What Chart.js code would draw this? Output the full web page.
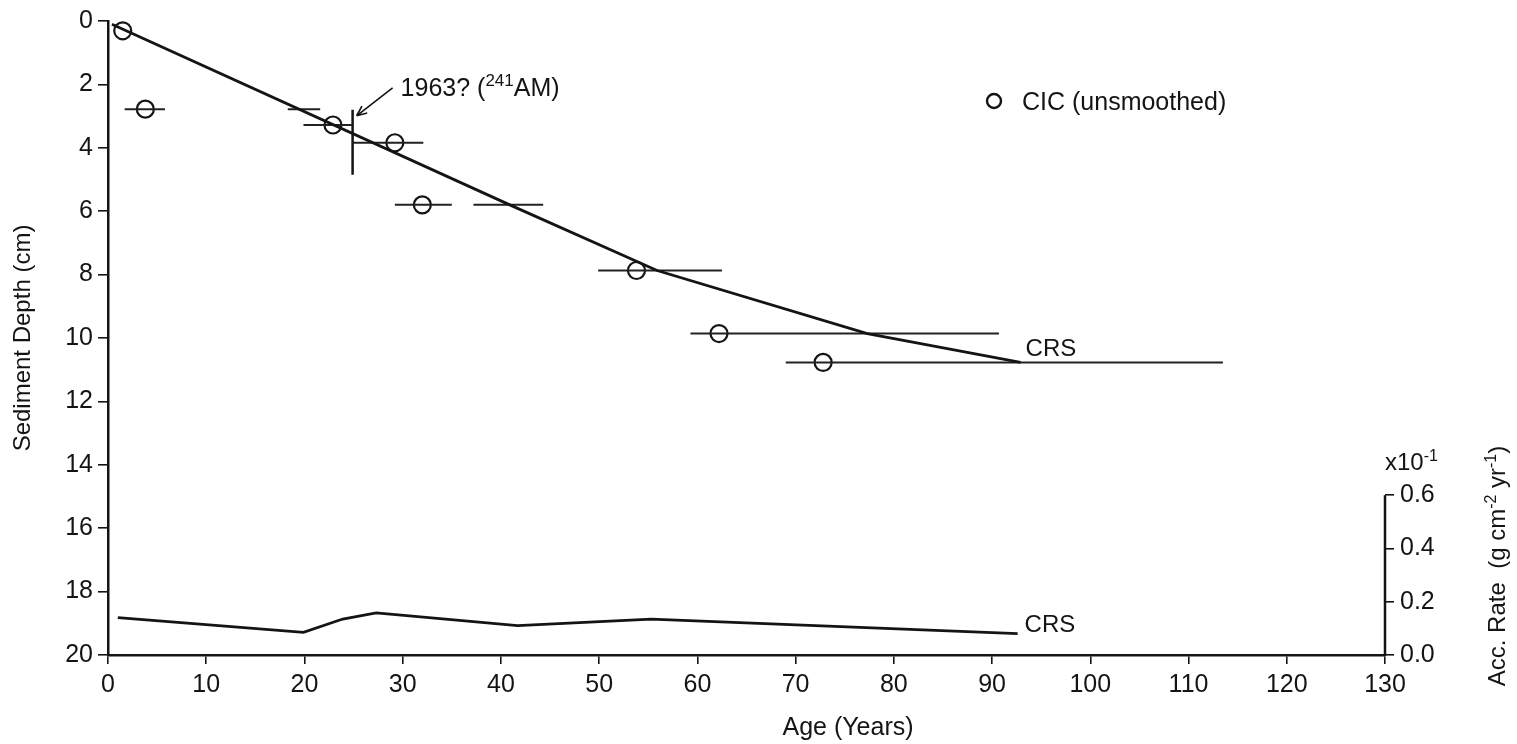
<!DOCTYPE html>
<html>
<head>
<meta charset="utf-8">
<script src="https://cdn.jsdelivr.net/npm/chart.js@4.4.0/dist/chart.umd.min.js"></script>
<style>
  body { margin: 0; background: #fff; }
  #wrap { width: 1517px; height: 744px; }
</style>
</head>
<body>
<div id="wrap"><canvas id="chart" width="1517" height="744"></canvas></div>
<script>
//
// Sediment core age model: CRS vs CIC (unsmoothed), plus CRS accumulation rate
//

// axis ticks
const ageTicks = [0, 10, 20, 30, 40, 50, 60, 70, 80, 90, 100, 110, 120, 130]
const depthTicks = [0, 2, 4, 6, 8, 10, 12, 14, 16, 18, 20]
const rateTicks = [0, 0.2, 0.4, 0.6]

// CRS depth-age model (years, cm)
const crsAge = [0.4, 40.9, 55.9, 77.3, 92.9]
const crsDepth = [0.1, 5.8, 7.87, 9.86, 10.77]

// CIC unsmoothed (years, cm)
const cicAge = [1.5, 3.8, 22.9, 29.2, 32.0, 53.8, 62.2, 72.8]
const cicDepth = [0.31, 2.78, 3.28, 3.84, 5.8, 7.87, 9.86, 10.77]

// horizontal age error bars (cm, years low, years high)
const errDepth = [2.78, 2.78, 3.28, 3.84, 5.8, 5.8, 7.87, 9.86, 10.77]
const errLow = [1.7, 18.3, 19.9, 24.9, 29.2, 37.2, 49.9, 59.3, 69.0]
const errHigh = [5.8, 21.6, 25.0, 32.1, 35.0, 44.3, 62.5, 90.7, 113.5]

// 241Am marker (1963?), vertical depth bar
const amAge = 24.9
const amDepth = [2.8, 4.85]

// CRS accumulation rate (x10^-1 g cm-2 yr-1)
const accAge = [1.0, 19.9, 23.9, 27.3, 41.7, 55.3, 92.6]
const accRate = [0.14, 0.085, 0.135, 0.158, 0.11, 0.135, 0.08]

const ink = "#141414"
const fontFamily = "'Liberation Sans', Arial, Helvetica, sans-serif"

//Build error bar segments, broken apart by gap points.
let errData = []
for (let i = 0; i < errDepth.length; i++){
    errData.push({ x: errLow[i], y: errDepth[i] })
    errData.push({ x: errHigh[i], y: errDepth[i] })
    errData.push({ x: errHigh[i], y: null })
}

const zip = (xs, ys) => xs.map((x, i) => ({ x: x, y: ys[i] }))

//Text with superscript parts, e.g. [["1963? ("], ["241", true], ["AM)"]]
function richText(ctx, parts, x, y, size, align){
    const big = size + "px " + fontFamily
    const small = Math.round(size * 0.66) + "px " + fontFamily
    let width = 0
    for (let p of parts){
        ctx.font = p[1] ? small : big
        width += ctx.measureText(p[0]).width
    }
    let cx = align === "center" ? x - width / 2 : x
    ctx.textAlign = "left"
    ctx.textBaseline = "alphabetic"
    for (let p of parts){
        ctx.font = p[1] ? small : big
        ctx.fillText(p[0], cx, p[1] ? y - size * 0.38 : y)
        cx += ctx.measureText(p[0]).width
    }
}

const annotations = {
    id: "annotations",
    afterDatasetsDraw(chart){
        const ctx = chart.ctx
        const xs = chart.scales.x
        const ys = chart.scales.y
        const rs = chart.scales.y2
        ctx.save()
        ctx.fillStyle = ink
        ctx.strokeStyle = ink

        //Right axis line only spans the rate range.
        ctx.lineWidth = 2.5
        ctx.beginPath()
        ctx.moveTo(rs.left, rs.getPixelForValue(0) + 1)
        ctx.lineTo(rs.left, rs.getPixelForValue(rateTicks[rateTicks.length - 1]))
        ctx.stroke()

        //x10^-1 multiplier above right axis
        richText(ctx, [["x10"], ["-1", true]], rs.left, rs.getPixelForValue(0.6) - 25, 24, "left")

        //Right axis title, rotated
        ctx.save()
        ctx.translate(1505, 566)
        ctx.rotate(-Math.PI / 2)
        richText(ctx, [["Acc. Rate  (g cm"], ["-2", true], [" yr"], ["-1", true], [")"]], 0, 0, 24, "center")
        ctx.restore()

        //x axis title
        richText(ctx, [["Age (Years)"]], 848, 735, 25, "center")

        //1963? (241Am) marker label with arrow
        const tipX = xs.getPixelForValue(amAge) + 4
        const tipY = ys.getPixelForValue(amDepth[0]) + 6
        const tailX = tipX + 36, tailY = tipY - 28
        ctx.lineWidth = 1.6
        ctx.beginPath()
        ctx.moveTo(tailX, tailY)
        ctx.lineTo(tipX, tipY)
        const ang = Math.atan2(tipY - tailY, tipX - tailX)
        for (let s of [-1, 1]){
            ctx.moveTo(tipX, tipY)
            ctx.lineTo(tipX - 11 * Math.cos(ang + s * 0.4), tipY - 11 * Math.sin(ang + s * 0.4))
        }
        ctx.stroke()
        richText(ctx, [["1963? ("], ["241", true], ["AM)"]], tailX + 8, tailY + 8, 25, "left")

        //CRS labels at line ends
        const endX = xs.getPixelForValue(crsAge[crsAge.length - 1])
        const endY = ys.getPixelForValue(crsDepth[crsDepth.length - 1])
        richText(ctx, [["CRS"]], endX + 5, endY - 6, 24, "left")
        const accX = xs.getPixelForValue(accAge[accAge.length - 1])
        const accY = rs.getPixelForValue(accRate[accRate.length - 1])
        richText(ctx, [["CRS"]], accX + 7, accY - 2, 24, "left")

        //Legend
        ctx.lineWidth = 2.4
        ctx.beginPath()
        ctx.arc(994, 101, 7, 0, Math.PI * 2)
        ctx.stroke()
        richText(ctx, [["CIC (unsmoothed)"]], 1022, 110, 25, "left")

        ctx.restore()
    }
}

const tickFont = { family: fontFamily, size: 25 }

new Chart(document.getElementById("chart").getContext("2d"), {
    type: "scatter",
    data: {
        datasets: [
            {
                label: "CRS",
                data: zip(crsAge, crsDepth),
                showLine: true,
                borderColor: ink,
                borderWidth: 2.8,
                pointRadius: 0,
                yAxisID: "y"
            },
            {
                label: "error",
                data: errData,
                showLine: true,
                spanGaps: false,
                borderColor: "#222",
                borderWidth: 2,
                pointRadius: 0,
                yAxisID: "y"
            },
            {
                label: "241Am",
                data: [{ x: amAge, y: amDepth[0] }, { x: amAge, y: amDepth[1] }],
                showLine: true,
                borderColor: ink,
                borderWidth: 2.5,
                pointRadius: 0,
                yAxisID: "y"
            },
            {
                label: "CIC (unsmoothed)",
                data: zip(cicAge, cicDepth),
                showLine: false,
                pointStyle: "circle",
                pointRadius: 8.5,
                pointBorderWidth: 2.2,
                pointBorderColor: ink,
                pointBackgroundColor: "rgba(0,0,0,0)",
                yAxisID: "y"
            },
            {
                label: "CRS rate",
                data: zip(accAge, accRate),
                showLine: true,
                borderColor: ink,
                borderWidth: 2.8,
                pointRadius: 0,
                yAxisID: "y2"
            }
        ]
    },
    options: {
        responsive: false,
        animation: false,
        layout: { padding: { top: 20, left: 0, right: 0, bottom: 0 } },
        plugins: {
            legend: { display: false },
            tooltip: { enabled: false }
        },
        scales: {
            x: {
                type: "linear",
                position: "bottom",
                min: 0,
                max: 130,
                afterBuildTicks: s => { s.ticks = ageTicks.map(v => ({ value: v })) },
                ticks: { font: tickFont, color: ink, padding: 6, maxRotation: 0 },
                grid: { drawOnChartArea: false, tickLength: 9, color: ink, lineWidth: 1.6 },
                border: { color: ink, width: 2.5 },
                afterFit: s => { s.height = 89 }
            },
            y: {
                type: "linear",
                position: "left",
                reverse: true,
                min: 0,
                max: 20,
                afterBuildTicks: s => { s.ticks = depthTicks.map(v => ({ value: v })) },
                ticks: { font: tickFont, color: ink, padding: 5 },
                grid: { drawOnChartArea: false, tickLength: 10, color: ink, lineWidth: 1.6 },
                border: { color: ink, width: 2.5 },
                title: {
                    display: true,
                    text: "Sediment Depth (cm)",
                    color: ink,
                    font: { family: fontFamily, size: 24 },
                    padding: { top: 9, bottom: 0 }
                },
                afterFit: s => { s.width = 108 }
            },
            y2: {
                type: "linear",
                position: "right",
                min: 0,
                max: 2.38,
                afterBuildTicks: s => { s.ticks = rateTicks.map(v => ({ value: v })) },
                ticks: { font: tickFont, color: ink, padding: 6, callback: v => v.toFixed(1) },
                grid: { drawOnChartArea: false, tickLength: 9, color: ink, lineWidth: 1.6 },
                border: { display: false },
                afterFit: s => { s.width = 132 }
            }
        }
    },
    plugins: [annotations]
})
</script>
</body>
</html>
